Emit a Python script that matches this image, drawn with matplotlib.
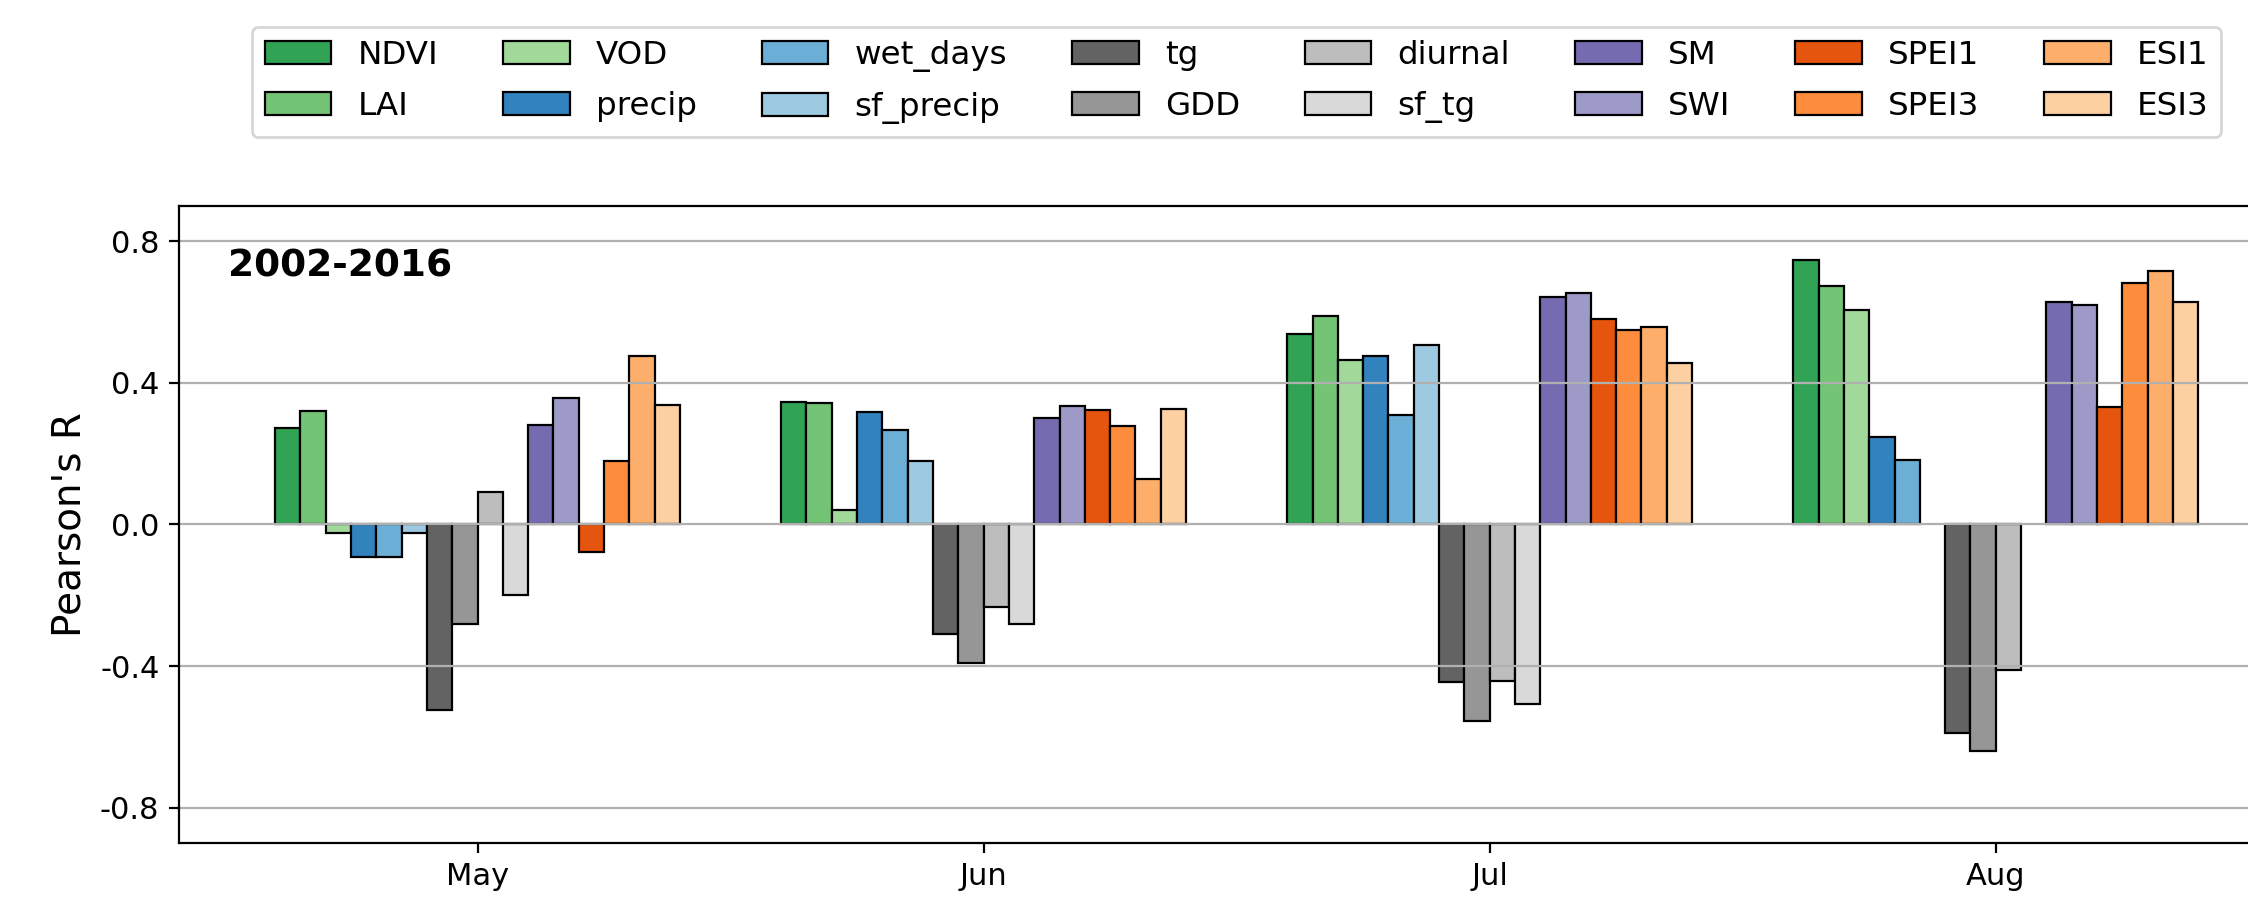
import numpy as np
import matplotlib
matplotlib.use('Agg')
import matplotlib.pyplot as plt

plt.rcParams['axes.unicode_minus'] = False

# months on the x axis
months = ['May', 'Jun', 'Jul', 'Aug']

# Pearson's R per predictor, one value per month (nan = not shown)
NDVI      = [0.272, 0.345, 0.537, 0.746]
LAI       = [0.321, 0.342, 0.590, 0.673]
VOD       = [-0.024, 0.042, 0.464, 0.607]
precip    = [-0.092, 0.317, 0.477, 0.248]
wet_days  = [-0.092, 0.268, 0.309, 0.183]
sf_precip = [-0.024, 0.180, 0.506, np.nan]
tg        = [-0.523, -0.309, -0.446, -0.588]
GDD       = [-0.282, -0.391, -0.555, -0.641]
diurnal   = [0.092, -0.234, -0.443, -0.411]
sf_tg     = [-0.199, -0.281, -0.507, np.nan]
SM        = [0.281, 0.302, 0.643, 0.627]
SWI       = [0.358, 0.334, 0.653, 0.620]
SPEI1     = [-0.077, 0.323, 0.579, 0.332]
SPEI3     = [0.178, 0.279, 0.548, 0.681]
ESI1      = [0.477, 0.127, 0.558, 0.716]
ESI3      = [0.337, 0.327, 0.457, 0.629]

names = ['NDVI', 'LAI', 'VOD', 'precip', 'wet_days', 'sf_precip',
         'tg', 'GDD', 'diurnal', 'sf_tg', 'SM', 'SWI',
         'SPEI1', 'SPEI3', 'ESI1', 'ESI3']
series = [NDVI, LAI, VOD, precip, wet_days, sf_precip,
          tg, GDD, diurnal, sf_tg, SM, SWI,
          SPEI1, SPEI3, ESI1, ESI3]
colors = ['#31a354', '#74c476', '#a1d99b',
          '#3182bd', '#6baed6', '#9ecae1',
          '#636363', '#969696', '#bdbdbd', '#d9d9d9',
          '#756bb1', '#9e9ac8',
          '#e6550d', '#fd8d3c', '#fdae6b', '#fdd0a2']

fig = plt.figure(figsize=(11.24, 4.5), dpi=200)
# axes runs past the right edge, like the cropped original
ax = fig.add_axes([0.0796, 0.0633, 0.941, 0.708])

x = np.arange(len(months))
n = len(series)
w = 0.8 / n
for i, (name, vals, c) in enumerate(zip(names, series, colors)):
    ax.bar(x - 0.4 + w * (i + 0.5), vals, width=w, color=c,
           edgecolor='black', linewidth=0.8, label=name)

ax.set_xlim(-0.59, 3.59)
ax.set_ylim(-0.9, 0.9)
ax.set_xticks(x)
ax.set_xticklabels(months, fontsize=11)
ax.set_yticks([-0.8, -0.4, 0.0, 0.4, 0.8])
ax.set_yticklabels(['-0.8', '-0.4', '0.0', '0.4', '0.8'], fontsize=11)
ax.yaxis.grid(True, color='#b0b0b0', linewidth=0.8)
ax.set_ylabel("Pearson's R", fontsize=14)

ax.text(0.023, 0.905, '2002-2016', transform=ax.transAxes,
        fontsize=13.5, fontweight='bold', va='center', ha='left')

ax.legend(ncol=8, loc='lower center', bbox_to_anchor=(0.5, 1.083),
          fontsize=11.7, handlelength=2.05, labelspacing=0.6)

plt.savefig('out.png', dpi=200)
